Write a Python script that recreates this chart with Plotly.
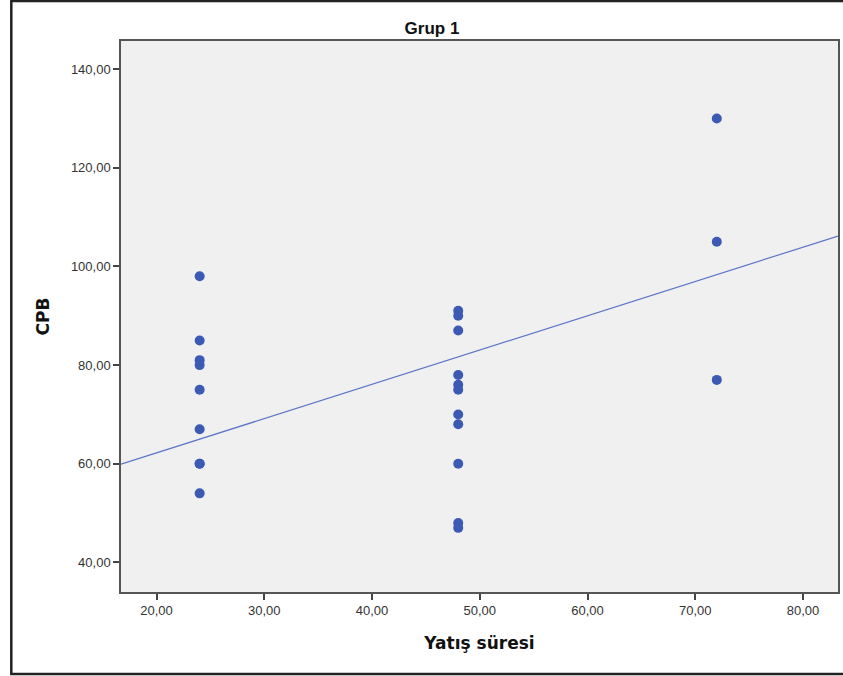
import numpy as np
import plotly.graph_objects as go

# Data
x_24 = [24] * 9
cpb_24 = [98, 85, 81, 80, 75, 67, 60, 60, 54]
x_48 = [48] * 11
cpb_48 = [91, 90, 87, 78, 76, 75, 70, 68, 60, 48, 47]
x_72 = [72] * 3
cpb_72 = [130, 105, 77]

# Fit line
fit_intercept = 48.3
fit_slope = 0.695

x_ticks = [20, 30, 40, 50, 60, 70, 80]
y_ticks = [40, 60, 80, 100, 120, 140]
x_range = [16.7, 83.25]
y_range = [34.0, 145.7]

xs = x_24 + x_48 + x_72
ys = cpb_24 + cpb_48 + cpb_72

line_x = np.array(x_range)
line_y = fit_intercept + fit_slope * line_x

fig = go.Figure()
fig.add_trace(go.Scatter(
    x=line_x, y=line_y, mode="lines",
    line=dict(color="#5b74c9", width=1.2),
    hoverinfo="skip", showlegend=False,
))
fig.add_trace(go.Scatter(
    x=xs, y=ys, mode="markers",
    marker=dict(color="#3c5ab3", size=10, line=dict(width=0)),
    showlegend=False,
))

fig.update_layout(
    width=843, height=676,
    margin=dict(l=121, r=3, t=41, b=84),
    paper_bgcolor="white",
    plot_bgcolor="#f0f0f0",
    separators=",.",
    title=dict(text="<b>Grup 1</b>", x=(432) / 843, xanchor="center",
               y=1 - 28 / 676, yanchor="middle",
               font=dict(family="Liberation Sans, Arial", size=17, color="#111")),
    showlegend=False,
)
fig.update_xaxes(
    range=x_range, tickvals=x_ticks, tickformat=".2f",
    showgrid=False, zeroline=False,
    showline=True, linecolor="#555", linewidth=1.5, mirror=True,
    ticks="outside", ticklen=6, tickwidth=2, tickcolor="#444",
    tickfont=dict(family="Liberation Sans, Arial", size=13, color="#333"),
    title=dict(text="<b>Yatış süresi</b>", standoff=20,
               font=dict(family="DejaVu Sans", size=17, color="#111")),
)
fig.update_yaxes(
    range=y_range, tickvals=y_ticks, tickformat=".2f",
    showgrid=False, zeroline=False,
    showline=True, linecolor="#555", linewidth=1.5, mirror=True,
    ticks="outside", ticklen=6, tickwidth=2, tickcolor="#444",
    tickfont=dict(family="Liberation Sans, Arial", size=13, color="#333"),
    title=dict(text="<b>CPB</b>", standoff=17,
               font=dict(family="DejaVu Sans", size=17, color="#111")),
)

# outer frame of the exported image
fig.add_shape(type="rect", xref="paper", yref="paper",
              x0=(11 - 121) / 719, x1=(852 - 121) / 719,
              y0=(592 - 674) / 551, y1=(592 - 1) / 551,
              line=dict(color="#222", width=2.5), fillcolor="rgba(0,0,0,0)",
              layer="above")

fig.write_html("out.html",
               config={"displayModeBar": False},
               post_script="document.body.style.margin='0';document.body.style.overflow='hidden';")
